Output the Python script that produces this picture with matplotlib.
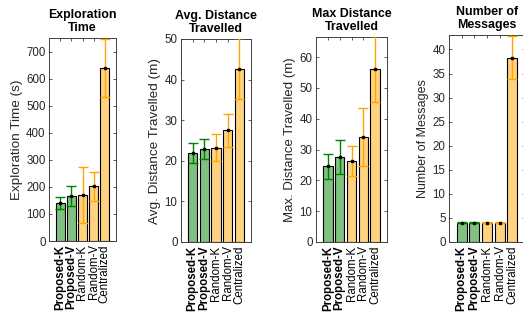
import matplotlib
matplotlib.use('Agg')
import matplotlib.pyplot as plt
import numpy as np

plt.rcParams['font.family'] = ['Liberation Sans', 'DejaVu Sans']

methods = ['Proposed-K', 'Proposed-V', 'Random-K', 'Random-V', 'Centralized']

# mean / std per metric
explore_mean = [141, 167, 169, 202, 639]
explore_err = [23, 36, 103, 54, 108]
avgdist_mean = [21.9, 22.9, 23.2, 27.5, 42.7]
avgdist_err = [2.5, 2.5, 3.3, 4.0, 7.5]
maxdist_mean = [24.5, 27.6, 26.4, 34.1, 56.1]
maxdist_err = [4.1, 5.4, 4.9, 9.3, 10.6]
msgs_mean = [4.0, 4.0, 4.0, 4.0, 38.3]
msgs_err = [0.1, 0.1, 0.1, 0.1, 4.5]

titles = ['Exploration\nTime', 'Avg. Distance\nTravelled', 'Max Distance\nTravelled', 'Number of\nMessages']
ylabels = ['Exploration Time (s)', 'Avg. Distance Travelled (m)', 'Max. Distance Travelled (m)', 'Number of Messages']
ylims = [750, 50, 66.5, 43]
yticks = [np.arange(0, 701, 100), np.arange(0, 51, 10), np.arange(0, 61, 10), np.arange(0, 41, 5)]
ylabel_size = [9.7, 9.7, 9.5, 9.0]

face = ['#80c080', '#80c080', '#ffd280', '#ffd280', '#ffd280']
errc = ['#008000', '#008000', '#ffa500', '#ffa500', '#ffa500']

W, H = 523, 322
boxes = [(49, 116, 38, 241), (181, 251, 39, 242), (316, 387, 37, 242), (449, 525, 35, 242)]

fig = plt.figure(figsize=(W / 100, H / 100), dpi=100)

means = [explore_mean, avgdist_mean, maxdist_mean, msgs_mean]
errs = [explore_err, avgdist_err, maxdist_err, msgs_err]
axc = '#404040'

for k in range(4):
  l, r, t, b = boxes[k]
  ax = fig.add_axes([l / W, 1 - b / H, (r - l) / W, (b - t) / H])
  x = np.arange(1, 6)
  ax.bar(x, means[k], width=0.8, color=face, edgecolor='black', linewidth=0.8, zorder=2)
  for i in range(5):
    ax.errorbar(x[i], means[k][i], yerr=errs[k][i], color=errc[i], capsize=3.5,
                elinewidth=1.0, capthick=1.0, fmt='none', zorder=3, clip_on=True)
    ax.plot(x[i], means[k][i], marker='s', markersize=1.8, color='black',
            markeredgecolor='black', zorder=4)
  ax.set_xlim(0, 6)
  ax.set_ylim(0, ylims[k])
  ax.set_yticks(yticks[k])
  ax.set_xticks(x)
  ax.set_xticklabels(methods, rotation=90, fontsize=8.3, color='black')
  for i, lab in enumerate(ax.get_xticklabels()):
    if i < 2:
      lab.set_fontweight('bold')
  ax.tick_params(axis='both', direction='in', length=2.5, width=0.6, color=axc,
                 top=True, right=True, labelsize=8.3, labelcolor='#262626', pad=2.5)
  ax.tick_params(axis='x', labelcolor='black', labelsize=8.3)
  for s in ax.spines.values():
    s.set_color(axc)
    s.set_linewidth(0.7)
  ax.set_ylabel(ylabels[k], fontsize=ylabel_size[k], color='#262626', labelpad=2.5)
  ax.set_title(titles[k], fontsize=8.9, fontweight='bold', pad=5, linespacing=1.15)

fig.savefig('out.png', dpi=100)
